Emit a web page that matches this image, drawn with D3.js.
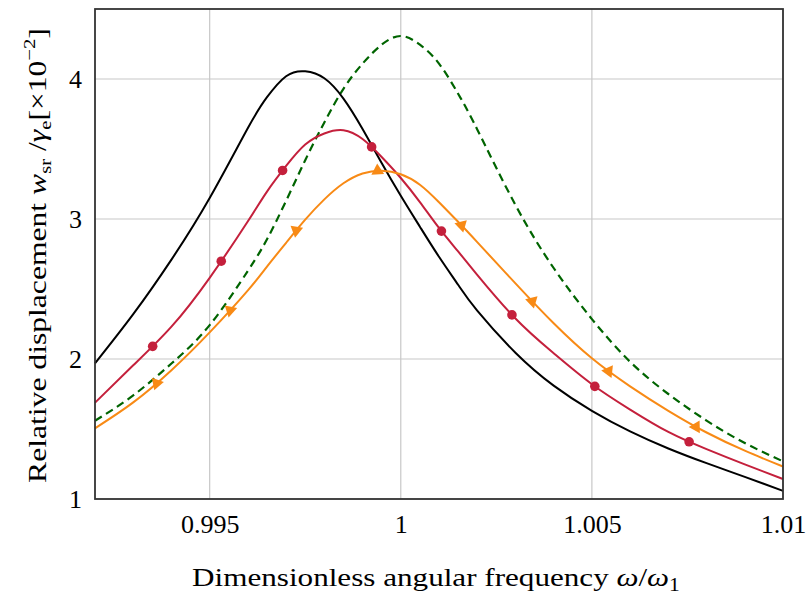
<!DOCTYPE html>
<html>
<head>
<meta charset="utf-8">
<script src="https://cdn.jsdelivr.net/npm/d3@7"></script>
<style>
  body { margin: 0; background: #fff; }
  text { font-family: "Liberation Serif", "Times New Roman", Times, serif; fill: #000; }
</style>
</head>
<body>
<svg id="chart" width="806" height="596"></svg>
<script>
// dimensionless angular frequency (x grid shared by all curves)
const omega = [0.992, 0.993, 0.994, 0.995, 0.996, 0.9965, 0.997, 0.9975, 0.998, 0.9985, 0.999, 0.9995,
  1.0, 1.0005, 1.001, 1.0015, 1.002, 1.003, 1.004, 1.005, 1.006, 1.007, 1.008, 1.009, 1.01];

// relative displacement, x1e-2
const wBlack = [1.969, 2.32, 2.71, 3.15, 3.65, 3.87, 4.02, 4.055, 4.005, 3.86, 3.643, 3.4,
  3.166, 2.945, 2.73, 2.53, 2.345, 2.045, 1.81, 1.63, 1.483, 1.361, 1.256, 1.158, 1.058];
const wRed = [1.688, 1.955, 2.231, 2.58, 2.984, 3.196, 3.379, 3.532, 3.611, 3.634, 3.571, 3.443,
  3.293, 3.121, 2.936, 2.768, 2.601, 2.289, 2.041, 1.82, 1.639, 1.479, 1.356, 1.247, 1.143];
const wOrange = [1.505, 1.69, 1.92, 2.19, 2.49, 2.66, 2.83, 2.995, 3.14, 3.255, 3.325, 3.345,
  3.32, 3.245, 3.12, 2.98, 2.835, 2.54, 2.255, 2.005, 1.805, 1.63, 1.475, 1.345, 1.232];
const wGreen = [1.559, 1.74, 1.968, 2.242, 2.63, 2.855, 3.13, 3.42, 3.69, 3.93, 4.11, 4.245,
  4.307, 4.245, 4.11, 3.895, 3.64, 3.1, 2.65, 2.285, 1.98, 1.75, 1.56, 1.4, 1.269];

const xTicks = [0.995, 1, 1.005, 1.01];
const xTickLabels = ["0.995", "1", "1.005", "1.01"];
const yTicks = [1, 2, 3, 4];
const yTickLabels = ["1", "2", "3", "4"];

const width = 806, height = 596;
const marginLeft = 95, marginRight = 23, marginTop = 9, marginBottom = 97;

const svg = d3.select("#chart");

const x = d3.scaleLinear()
  .domain([0.992, 1.01])
  .range([marginLeft, width - marginRight]);

const y = d3.scaleLinear()
  .domain([1, 4.5])
  .range([height - marginBottom, marginTop]);

// grid
svg.append("g")
  .selectAll("line")
  .data(xTicks)
  .join("line")
  .attr("x1", d => x(d)).attr("x2", d => x(d))
  .attr("y1", y(1)).attr("y2", y(4.5))
  .attr("stroke", "#c8c8c8").attr("stroke-width", 1.2);

svg.append("g")
  .selectAll("line")
  .data(yTicks)
  .join("line")
  .attr("x1", x(0.992)).attr("x2", x(1.01))
  .attr("y1", d => y(d)).attr("y2", d => y(d))
  .attr("stroke", "#c8c8c8").attr("stroke-width", 1.2);

// axes (labels only, the grid is drawn above)
const xAxis = d3.axisBottom(x)
  .tickValues(xTicks)
  .tickFormat((d, i) => xTickLabels[i])
  .tickSize(0)
  .tickPadding(16);

const yAxis = d3.axisLeft(y)
  .tickValues(yTicks)
  .tickFormat((d, i) => yTickLabels[i])
  .tickSize(0)
  .tickPadding(13);

svg.append("g")
  .attr("transform", `translate(0,${height - marginBottom})`)
  .call(xAxis)
  .call(g => g.select(".domain").remove())
  .selectAll("text")
  .attr("font-size", 26);

svg.append("g")
  .attr("transform", `translate(${marginLeft},0)`)
  .call(yAxis)
  .call(g => g.select(".domain").remove())
  .selectAll("text")
  .attr("font-size", 26);

// curves
const line = d3.line()
  .x((d, i) => x(omega[i]))
  .y(d => y(d))
  .curve(d3.curveNatural);

const curves = svg.append("g");

curves.append("path")
  .attr("fill", "none")
  .attr("stroke", "#006400")
  .attr("stroke-width", 2.2)
  .attr("stroke-dasharray", "8,5")
  .attr("d", line(wGreen));

curves.append("path")
  .attr("fill", "none")
  .attr("stroke", "#000")
  .attr("stroke-width", 2)
  .attr("d", line(wBlack));

const redPath = curves.append("path")
  .attr("fill", "none")
  .attr("stroke", "#c4203c")
  .attr("stroke-width", 2)
  .attr("d", line(wRed));

const orangePath = curves.append("path")
  .attr("fill", "none")
  .attr("stroke", "#f88a15")
  .attr("stroke-width", 2)
  .attr("d", line(wOrange));

// markers placed along each path at equal arc-length steps
const markStart = 0.085, markStep = 0.1155, markCount = 8;

function marksAlong(path) {
  const node = path.node();
  const L = node.getTotalLength();
  return d3.range(markCount).map(k => {
    const s = L * (markStart + k * markStep);
    const p = node.getPointAtLength(s);
    const a = node.getPointAtLength(Math.max(0, s - 1));
    const b = node.getPointAtLength(Math.min(L, s + 1));
    return { x: p.x, y: p.y, angle: Math.atan2(b.y - a.y, b.x - a.x) * 180 / Math.PI };
  });
}

curves.append("g")
  .selectAll("circle")
  .data(marksAlong(redPath))
  .join("circle")
  .attr("cx", d => d.x)
  .attr("cy", d => d.y)
  .attr("r", 4.8)
  .attr("fill", "#c4203c");

const tri = d3.symbol().type(d3.symbolTriangle).size(70);
curves.append("g")
  .selectAll("path")
  .data(marksAlong(orangePath))
  .join("path")
  .attr("d", tri)
  .attr("transform", d => `translate(${d.x},${d.y}) rotate(${d.angle})`)
  .attr("fill", "#f88a15");

// frame
svg.append("rect")
  .attr("x", x(0.992)).attr("y", y(4.5))
  .attr("width", x(1.01) - x(0.992))
  .attr("height", y(1) - y(4.5))
  .attr("fill", "none")
  .attr("stroke", "#333")
  .attr("stroke-width", 1.8);

// axis titles, stretched along the reading direction to the reference extent
const xTitle = svg.append("text")
  .attr("text-anchor", "middle")
  .attr("font-size", 26);
xTitle.append("tspan").text("Dimensionless angular frequency ");
xTitle.append("tspan").attr("font-style", "italic").text("ω");
xTitle.append("tspan").text("/");
xTitle.append("tspan").attr("font-style", "italic").text("ω");
xTitle.append("tspan").attr("font-size", 18).attr("dy", 5).text("1");
const xw = xTitle.node().getBBox().width;
xTitle.attr("transform", `translate(${(x(0.992) + x(1.01)) / 2 - 3},586) scale(${488 / xw},1)`);

const yTitle = svg.append("text")
  .attr("text-anchor", "middle")
  .attr("font-size", 26);
yTitle.append("tspan").text("Relative displacement ");
yTitle.append("tspan").attr("font-style", "italic").text("w");
yTitle.append("tspan").attr("font-size", 17).attr("dy", 5).text("sr");
yTitle.append("tspan").attr("dy", -5).text(" /");
yTitle.append("tspan").attr("font-style", "italic").text("γ");
yTitle.append("tspan").attr("font-size", 17).attr("dy", 5).text("e");
yTitle.append("tspan").attr("dy", -5).text("[×10");
yTitle.append("tspan").attr("font-size", 17).attr("dy", -11).text("−2");
yTitle.append("tspan").attr("dy", 11).text("]");
const yw = yTitle.node().getBBox().width;
yTitle.attr("transform", `translate(46,255.5) rotate(-90) scale(${455 / yw},1)`);
</script>
</body>
</html>
